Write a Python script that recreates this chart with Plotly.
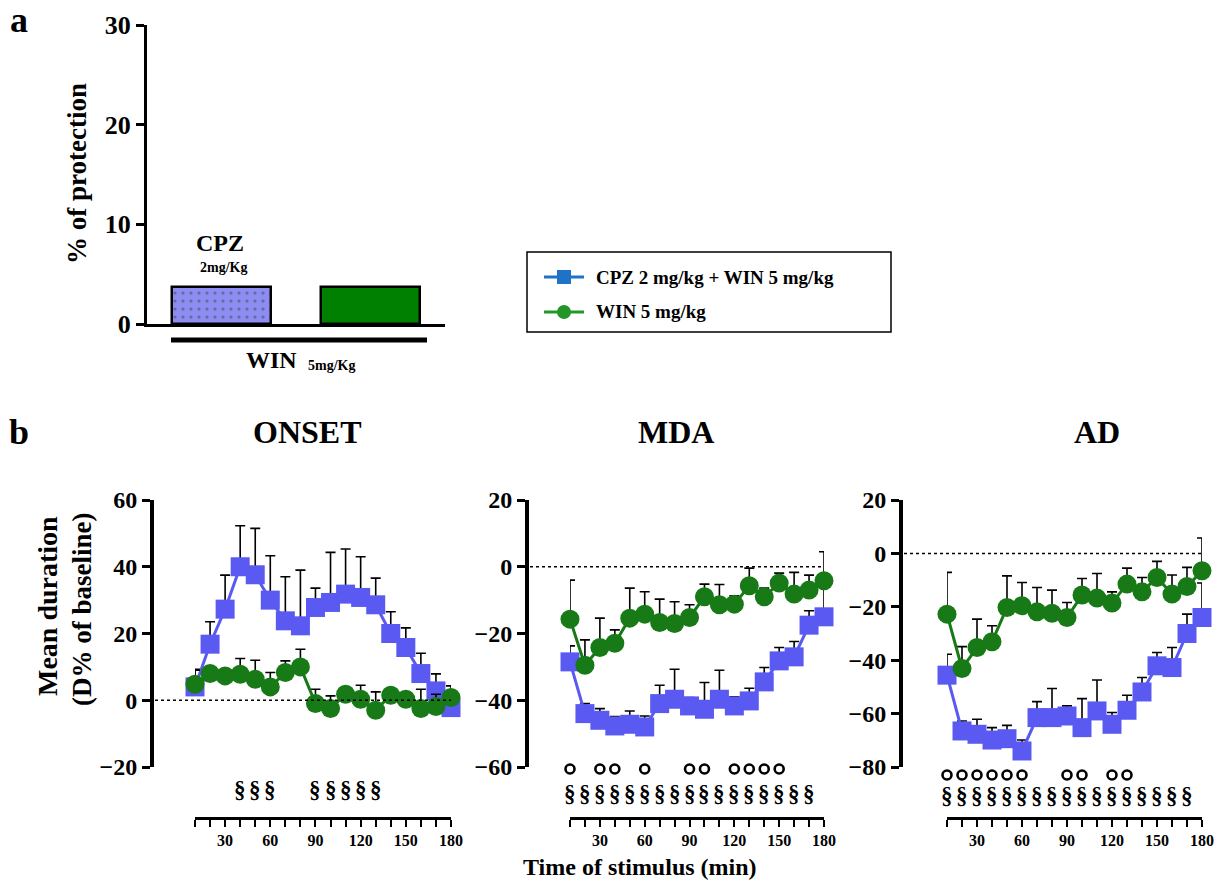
import plotly.graph_objects as go

W, H = 1231, 882
SERIF = "Liberation Serif"
BLUE = "#5a5af2"
GREEN = "#177a17"
LEG_BLUE = "#1f72c6"
LEG_GREEN = "#23962a"

# ---------------- data: panel a ----------------
groups = ["CPZ 2mg/Kg + WIN 5mg/Kg", "WIN 5mg/Kg"]
protection = [3.7, 3.7]

# ---------------- data: panel b ----------------
time_min = [10, 20, 30, 40, 50, 60, 70, 80, 90, 100, 110, 120, 130, 140, 150, 160, 170, 180]

onset_cpz_win = [4, 16.8, 27.3, 40, 37.6, 30, 23.8, 22.3, 27.8, 29.3, 31.8, 30.8, 28.6, 20, 15.8, 8, 2.8, -2.2]
onset_cpz_win_sem = [5.3, 6.7, 10.2, 12.3, 13.9, 13.3, 13.2, 16.7, 5.8, 15.0, 13.5, 12.2, 8.0, 6.5, 5.9, 6.1, 5.1, 2.7]
onset_win = [4.8, 8, 7.3, 7.8, 6.3, 4, 8.3, 10, -1, -2.5, 1.8, 0.3, -3, 1.5, 0.3, -2.5, -1.9, 0.8]
onset_win_sem = [4.2, 1.5, 1.5, 4.7, 5.7, 4.3, 3.5, 5.3, 4.3, 3.8, 2.0, 4.2, 5.5, 1.5, 1.8, 5.8, 3.7, 3.5]

mda_cpz_win = [-28.5, -44, -46, -47.7, -47.2, -48, -41, -39.7, -41.7, -42.7, -39.7, -41.7, -40.2, -34.5, -28.2, -27, -17.5, -15]
mda_cpz_win_sem = [4.8, 3.0, 3.5, 2.8, 4.0, 3.3, 5.5, 9.0, 2.5, 8.0, 8.7, 2.7, 3.8, 4.3, 4.0, 4.6, 4.3, 9.0]
mda_win = [-15.7, -29.5, -24.2, -22.9, -15.4, -14.2, -16.7, -17, -15.2, -9, -11.4, -11.2, -5.7, -9, -4.9, -8.2, -7, -4.2]
mda_win_sem = [11.7, 7.6, 8.8, 4.0, 9.0, 6.7, 7.0, 6.5, 3.8, 3.8, 6.1, 2.5, 5.3, 2.6, 3.0, 6.5, 4.5, 8.7]

ad_cpz_win = [-45.6, -66.5, -67.75, -69.9, -69.4, -74, -61.5, -61.5, -60.9, -65.25, -59, -64, -58.75, -51.9, -42.1, -42.75, -30, -24]
ad_cpz_win_sem = [7.85, 3.75, 5.65, 4.65, 5.0, 4.1, 6.0, 10.9, 3.8, 10.85, 11.6, 4.4, 5.65, 5.4, 5.0, 7.5, 7.25, 12.9]
ad_win = [-22.75, -43.1, -35.25, -33.1, -20.25, -19.6, -21.9, -22.4, -24, -15.6, -16.75, -18.6, -11.5, -14.4, -9, -15.25, -12.4, -6.5]
ad_win_sem = [15.65, 8.2, 10.65, 6.0, 11.85, 8.7, 9.15, 8.65, 5.6, 6.2, 9.25, 4.2, 6.0, 5.4, 6.0, 7.15, 7.15, 12.25]

# time points flagged under each panel
onset_section = [40, 50, 60, 90, 100, 110, 120, 130]
mda_circle = [10, 30, 40, 60, 90, 100, 120, 130, 140, 150]
mda_section = [10, 20, 30, 40, 50, 60, 70, 80, 90, 100, 110, 120, 130, 140, 150, 160, 170]
ad_circle = [10, 20, 30, 40, 50, 60, 90, 100, 120, 130]
ad_section = [10, 20, 30, 40, 50, 60, 70, 80, 90, 100, 110, 120, 130, 140, 150, 160, 170]

x_tick_vals = list(range(10, 181, 10))
x_tick_text = [str(t) if t % 30 == 0 else "" for t in x_tick_vals]


def fx(px):
    return px / W


def fy(px):
    return 1 - px / H


def bold(s):
    return "<b>" + s + "</b>"


fig = go.Figure()
annotations = []
shapes = []

# ---------------- panel a: bar chart ----------------
fig.add_trace(go.Bar(
    x=groups, y=protection, width=0.67,
    marker=dict(color=["#8c8cf2", "#008000"],
                line=dict(color="black", width=2.5),
                pattern=dict(shape=[".", ""], fillmode="overlay", fgcolor="white",
                             size=8, solidity=0.12)),
    xaxis="x", yaxis="y", showlegend=False, hoverinfo="skip",
))

axis_font = dict(family=SERIF, color="black", weight="bold")

layout = dict(
    width=W, height=H,
    margin=dict(l=0, r=0, t=0, b=0, autoexpand=False),
    paper_bgcolor="white", plot_bgcolor="white",
    showlegend=False,
    bargap=0,
    xaxis=dict(domain=[fx(147), fx(445)], range=[-0.5, 1.5], anchor="y",
               showline=True, linewidth=3, linecolor="black", automargin=False,
               showticklabels=False, ticks="", showgrid=False, zeroline=False),
    yaxis=dict(domain=[fy(324), fy(25)], range=[0, 30], anchor="x",
               showline=True, linewidth=3, linecolor="black", automargin=False,
               ticks="outside", ticklen=8, tickwidth=3, tickcolor="black",
               tickvals=[0, 10, 20, 30], tickfont=dict(size=26, **axis_font),
               showgrid=False, zeroline=False),
)

# group bracket under bars
shapes.append(dict(type="line", xref="paper", yref="paper",
                   x0=fx(171), x1=fx(427), y0=fy(340), y1=fy(340),
                   line=dict(color="black", width=5)))

annotations += [
    dict(text=bold("a"), x=fx(19), y=fy(20), font=dict(size=36)),
    dict(text=bold("% of protection"), x=fx(77), y=fy(174), textangle=-90, font=dict(size=27)),
    dict(text=bold("CPZ"), x=fx(220), y=fy(243), font=dict(size=24)),
    dict(text=bold("2mg/Kg"), x=fx(223), y=fy(267), font=dict(size=14)),
    dict(text=bold("WIN"), x=fx(271), y=fy(360), font=dict(size=24)),
    dict(text=bold("5mg/Kg"), x=fx(331), y=fy(365), font=dict(size=14)),
]

# ---------------- legend box ----------------
shapes.append(dict(type="rect", xref="paper", yref="paper",
                   x0=fx(527), x1=fx(891), y0=fy(332), y1=fy(252),
                   line=dict(color="black", width=1.5), fillcolor="white"))
for yy, col, sym, label in [(277, LEG_BLUE, "rect", "CPZ 2 mg/kg + WIN 5 mg/kg"),
                            (312, LEG_GREEN, "circle", "WIN 5 mg/kg")]:
    shapes.append(dict(type="line", xref="paper", yref="paper",
                       x0=fx(544), x1=fx(584), y0=fy(yy), y1=fy(yy),
                       line=dict(color=col, width=3)))
    shapes.append(dict(type=sym, xref="paper", yref="paper",
                       x0=fx(557), x1=fx(571), y0=fy(yy + 7), y1=fy(yy - 7),
                       line=dict(color=col, width=0), fillcolor=col))
    annotations.append(dict(text=bold(label), x=fx(594), y=fy(yy), xanchor="left",
                            font=dict(size=19)))

# ---------------- panel b: time courses ----------------
panels = [
    dict(title="ONSET", title_x=307, yr=(-20, 60), yt=[-20, 0, 20, 40, 60],
         xd=(195, 451), yline=152,
         cpz=onset_cpz_win, cpz_sem=onset_cpz_win_sem, win=onset_win, win_sem=onset_win_sem,
         circles=[], circ_y=770, sections=onset_section, sect_y=789),
    dict(title="MDA", title_x=676, yr=(-60, 20), yt=[-60, -40, -20, 0, 20],
         xd=(570, 824), yline=527,
         cpz=mda_cpz_win, cpz_sem=mda_cpz_win_sem, win=mda_win, win_sem=mda_win_sem,
         circles=mda_circle, circ_y=769, sections=mda_section, sect_y=793),
    dict(title="AD", title_x=1097, yr=(-80, 20), yt=[-80, -60, -40, -20, 0, 20],
         xd=(947, 1202), yline=901,
         cpz=ad_cpz_win, cpz_sem=ad_cpz_win_sem, win=ad_win, win_sem=ad_win_sem,
         circles=ad_circle, circ_y=775, sections=ad_section, sect_y=795),
]

Y_TOP, Y_BOT = 500, 767
X_AXIS_Y = 818

strip_axis = 10  # hidden y axes holding the open-circle rows start here

for i, p in enumerate(panels, start=2):
    xn, yn = f"x{i}", f"y{i}"
    y0, y1 = p["yr"]
    layout[f"xaxis{i}"] = dict(
        domain=[fx(p["xd"][0]), fx(p["xd"][1])], range=[10, 180],
        anchor="free", position=fy(X_AXIS_Y), automargin=False,
        showline=True, linewidth=3, linecolor="black",
        ticks="outside", ticklen=7, tickwidth=2, tickcolor="black",
        tickvals=x_tick_vals, ticktext=x_tick_text,
        tickfont=dict(size=16, **axis_font),
        showgrid=False, zeroline=False)
    layout[f"yaxis{i}"] = dict(
        domain=[fy(Y_BOT), fy(Y_TOP)], range=[y0, y1],
        anchor="free", position=fx(p["yline"]), automargin=False,
        showline=True, linewidth=4, linecolor="black",
        ticks="outside", ticklen=8, tickwidth=3, tickcolor="black",
        tickvals=p["yt"], tickfont=dict(size=24, **axis_font),
        showgrid=False, zeroline=False)

    for mean, sem, col, sym in [(p["cpz"], p["cpz_sem"], BLUE, "square"),
                                (p["win"], p["win_sem"], GREEN, "circle")]:
        # upward SEM whiskers, drawn beneath the markers
        fig.add_trace(go.Scatter(
            x=time_min, y=mean, mode="markers", xaxis=xn, yaxis=yn,
            marker=dict(size=1, color="rgba(0,0,0,0)"),
            error_y=dict(type="data", symmetric=False, array=sem,
                         arrayminus=[0] * len(sem), color="black",
                         thickness=1.6, width=5),
            cliponaxis=False, showlegend=False, hoverinfo="skip"))
        fig.add_trace(go.Scatter(
            x=time_min, y=mean, mode="lines+markers", xaxis=xn, yaxis=yn,
            line=dict(color=col, width=3),
            marker=dict(symbol=sym, size=19, color=col),
            cliponaxis=False, showlegend=False))

    # open-circle significance row on its own thin hidden axis
    if p["circles"]:
        sn = f"y{strip_axis}"
        layout[f"yaxis{strip_axis}"] = dict(
            domain=[fy(p["circ_y"] + 6), fy(p["circ_y"] - 6)], range=[-1, 1],
            anchor="free", position=0, visible=False, automargin=False)
        fig.add_trace(go.Scatter(
            x=p["circles"], y=[0] * len(p["circles"]), mode="markers",
            xaxis=xn, yaxis=sn, cliponaxis=False, showlegend=False, hoverinfo="skip",
            marker=dict(symbol="circle-open", size=9, color="black", line=dict(width=2.6))))
        strip_axis += 1

    # dotted baseline at zero
    frac = (0 - y0) / (y1 - y0)
    yzero = fy(Y_BOT) + frac * (fy(Y_TOP) - fy(Y_BOT))
    shapes.append(dict(type="line", xref="paper", yref="paper",
                       x0=fx(p["yline"] + 3), x1=fx(p["xd"][1]), y0=yzero, y1=yzero,
                       line=dict(color="black", width=1.5, dash="dot")))

    annotations.append(dict(text=bold(p["title"]), x=fx(p["title_x"]), y=fy(432),
                            font=dict(size=32)))
    for t in p["sections"]:
        annotations.append(dict(text=bold("§"), x=t, xref=xn, y=fy(p["sect_y"]),
                                font=dict(size=23)))

annotations += [
    dict(text=bold("b"), x=fx(19), y=fy(432), font=dict(size=36)),
    dict(text=bold("Mean duration"), x=fx(47), y=fy(606), textangle=-90, font=dict(size=28)),
    dict(text=bold("(D% of baseline)"), x=fx(82), y=fy(610), textangle=-90, font=dict(size=27)),
    dict(text=bold("Time of stimulus (min)"), x=fx(640), y=fy(867), font=dict(size=24)),
]

for a in annotations:
    a.setdefault("xref", "paper")
    a.setdefault("yref", "paper")
    a.setdefault("xanchor", "center")
    a.setdefault("yanchor", "middle")
    a.setdefault("showarrow", False)
    f = a.setdefault("font", {})
    f.setdefault("family", SERIF)
    f.setdefault("color", "black")

layout["annotations"] = annotations
layout["shapes"] = shapes
fig.update_layout(**layout)

fig.write_html("out.html")
